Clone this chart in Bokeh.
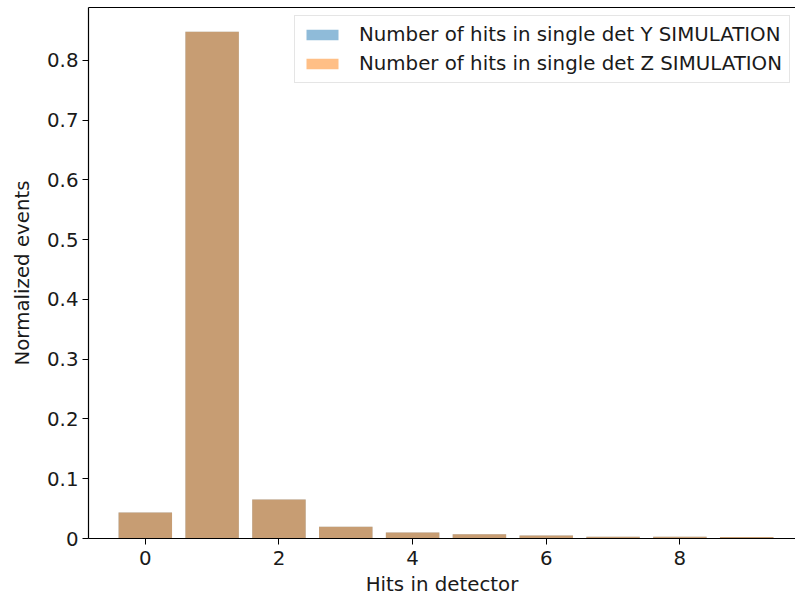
from bokeh.plotting import figure
from bokeh.models import FixedTicker, LinearAxis, Range1d, Legend, LegendItem, ColumnDataSource
from bokeh.embed import file_html
from bokeh.resources import INLINE

hits = [0, 1, 2, 3, 4, 5, 6, 7, 8, 9]
frac_y = [0.0435, 0.848, 0.0653, 0.0196, 0.0100, 0.0073, 0.0050, 0.0030, 0.0028, 0.0025]
frac_z = [0.0435, 0.848, 0.0653, 0.0196, 0.0100, 0.0073, 0.0050, 0.0030, 0.0028, 0.0025]
x_ticks = [0, 2, 4, 6, 8]
y_ticks = [0.0, 0.1, 0.2, 0.3, 0.4, 0.5, 0.6, 0.7, 0.8]
label_y = "Number of hits in single det Y SIMULATION"
label_z = "Number of hits in single det Z SIMULATION"

FONT = "DejaVu Sans"
FS = "19.8px"
TXT = "#1a1a1a"

src = ColumnDataSource(dict(x=hits, y=frac_y, z=frac_z))

p = figure(width=795, height=599, output_backend="svg", toolbar_location=None,
           x_range=Range1d(-0.85, 9.73), y_range=Range1d(0, 0.8885),
           min_border_left=88, min_border_right=0, min_border_top=7, min_border_bottom=61)
p.outline_line_color = None
p.grid.visible = False
p.background_fill_color = "white"
p.border_fill_color = "white"

r_y = p.vbar(x="x", top="y", width=0.8, source=src, fill_color="#1f77b4",
             fill_alpha=0.5, line_color=None)
r_z = p.vbar(x="x", top="z", width=0.8, source=src, fill_color="#ff7f0e",
             fill_alpha=0.5, line_color=None)

for ax in (p.xaxis[0], p.yaxis[0]):
    ax.axis_line_color = "black"
    ax.axis_line_width = 1.2
    ax.major_tick_line_color = "black"
    ax.major_tick_out = 6
    ax.major_tick_in = 0
    ax.minor_tick_line_color = None
    ax.major_label_text_font = FONT
    ax.major_label_text_font_size = FS
    ax.major_label_text_color = TXT
    ax.axis_label_text_font = FONT
    ax.axis_label_text_font_size = FS
    ax.axis_label_text_font_style = "normal"
    ax.axis_label_text_color = TXT

p.xaxis[0].ticker = FixedTicker(ticks=x_ticks)
p.yaxis[0].ticker = FixedTicker(ticks=y_ticks)
p.xaxis[0].axis_label = "Hits in detector"
p.yaxis[0].axis_label = "Normalized events"
p.xaxis[0].major_label_standoff = 6
p.yaxis[0].major_label_standoff = 4
p.xaxis[0].axis_label_standoff = 5
p.yaxis[0].axis_label_standoff = 10

top = LinearAxis(ticker=FixedTicker(ticks=[]), axis_line_color="black", axis_line_width=1.2,
                 major_tick_line_color=None, minor_tick_line_color=None,
                 major_label_text_font_size="0px", major_label_standoff=0,
                 major_tick_out=0, major_tick_in=0)
p.add_layout(top, "above")

legend = Legend(items=[LegendItem(label=label_y, renderers=[r_y]),
                       LegendItem(label=label_z, renderers=[r_z])],
                location=(206, 455), margin=0, padding=7, spacing=6,
                glyph_width=40, glyph_height=13, label_height=21, label_standoff=17,
                label_text_font=FONT, label_text_font_size=FS, label_text_color=TXT,
                border_line_color="#cccccc", border_line_width=1,
                background_fill_color="white", background_fill_alpha=0.8)
p.add_layout(legend)

open("out.html", "w").write(file_html(p, INLINE))
